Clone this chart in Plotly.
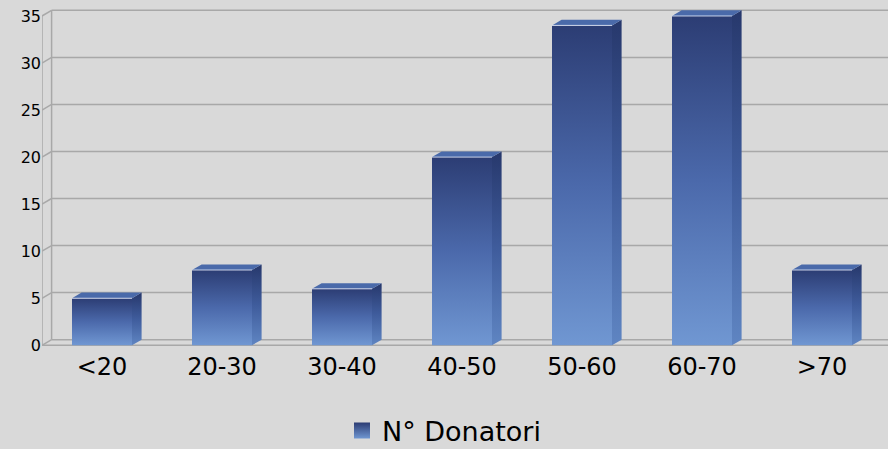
import plotly.graph_objects as go

# Donors by age band
categories = ["<20", "20-30", "30-40", "40-50", "50-60", "60-70", ">70"]
donors = [5, 8, 6, 20, 34, 35, 8]
y_ticks = [0, 5, 10, 15, 20, 25, 30, 35]
series_name = "N° Donatori"

# pseudo-3D geometry (data units)
HALF = 0.25          # half width of a bar's front face
DX, DY = 0.08, 0.6   # depth offset of the back wall / bar depth
X_LEFT, X_RIGHT = -0.5, 6.55
Y_LOW, Y_HIGH = -0.5, 36.7

BG = "#D9D9D9"
GRID = "#A8A8A8"
front_scale = [[0, "#7097D2"], [0.5, "#4B69AB"], [1, "#2C3D74"]]
side_scale = [[0, "#5F85C2"], [0.5, "#3F5C9C"], [1, "#27386C"]]
TOP_COLOR = "#4A6AAA"
FONT = "DejaVu Sans"

fig = go.Figure()

for i, (cat, v) in enumerate(zip(categories, donors)):
    xl, xr = i - HALF, i + HALF
    # side face
    fig.add_trace(go.Scatter(
        x=[xr, xr + DX, xr + DX, xr, xr], y=[0, DY, v + DY, v, 0],
        mode="none", fill="toself",
        fillgradient=dict(type="vertical", colorscale=side_scale),
        showlegend=False, hoverinfo="skip"))
    # top face
    fig.add_trace(go.Scatter(
        x=[xl, xl + DX, xr + DX, xr, xl], y=[v, v + DY, v + DY, v, v],
        mode="none", fill="toself", fillcolor=TOP_COLOR,
        showlegend=False, hoverinfo="skip"))
    # front face
    fig.add_trace(go.Scatter(
        x=[xl, xr, xr, xl, xl], y=[0, 0, v, v, 0],
        mode="none", fill="toself",
        fillgradient=dict(type="vertical", colorscale=front_scale),
        legendgroup="donors", showlegend=False,
        hovertemplate=f"{cat}: {v}<extra></extra>"))
    # light edge along the top of the front face
    fig.add_trace(go.Scatter(
        x=[xl, xr], y=[v, v], mode="lines",
        line=dict(color="rgba(235,240,255,0.8)", width=1),
        showlegend=False, hoverinfo="skip"))

# legend entry: a gradient square
fig.add_trace(go.Scatter(
    x=[None], y=[None], mode="markers", name=series_name, legendgroup="donors",
    marker=dict(symbol="square", size=16, color="#2C3D74", line=dict(width=0),
                gradient=dict(type="vertical", color="#7097D2"))))

# back wall gridlines, side-wall diagonals and floor
shapes = []
for t in y_ticks:
    shapes.append(dict(type="line", xref="x", yref="y", layer="below",
                       x0=X_LEFT + DX, y0=t + DY, x1=X_RIGHT, y1=t + DY,
                       line=dict(color=GRID, width=1.5)))
    shapes.append(dict(type="line", xref="x", yref="y", layer="below",
                       x0=X_LEFT, y0=t, x1=X_LEFT + DX, y1=t + DY,
                       line=dict(color=GRID, width=1.5)))
shapes.append(dict(type="line", xref="x", yref="y", layer="below",
                   x0=X_LEFT, y0=0, x1=X_LEFT, y1=y_ticks[-1],
                   line=dict(color=GRID, width=1.5)))
shapes.append(dict(type="line", xref="x", yref="y", layer="below",
                   x0=X_LEFT + DX, y0=DY, x1=X_LEFT + DX, y1=y_ticks[-1] + DY,
                   line=dict(color=GRID, width=1.5)))
shapes.append(dict(type="line", xref="x", yref="y", layer="below",
                   x0=X_LEFT, y0=0, x1=X_RIGHT, y1=0,
                   line=dict(color=GRID, width=1.5)))

fig.update_layout(
    width=888, height=449,
    margin=dict(l=42, r=0, t=0, b=98.6),
    paper_bgcolor=BG, plot_bgcolor=BG,
    shapes=shapes,
    font=dict(family=FONT, color="#000000"),
    xaxis=dict(range=[X_LEFT, X_RIGHT], tickmode="array",
               tickvals=list(range(len(categories))), ticktext=categories,
               showgrid=False, zeroline=False, showline=False, ticks="",
               tickfont=dict(size=24, family=FONT, color="#000000")),
    yaxis=dict(range=[Y_LOW, Y_HIGH], tickmode="array", tickvals=y_ticks,
               showgrid=False, zeroline=False, showline=False, ticks="",
               tickfont=dict(size=16, family=FONT, color="#000000")),
    legend=dict(orientation="h", xref="container", yref="container",
                x=0.5, xanchor="center", y=0.04, yanchor="middle",
                itemsizing="trace", itemwidth=30,
                font=dict(size=27, family=FONT, color="#000000"),
                bgcolor="rgba(0,0,0,0)"),
)

fig.write_html("out.html")
